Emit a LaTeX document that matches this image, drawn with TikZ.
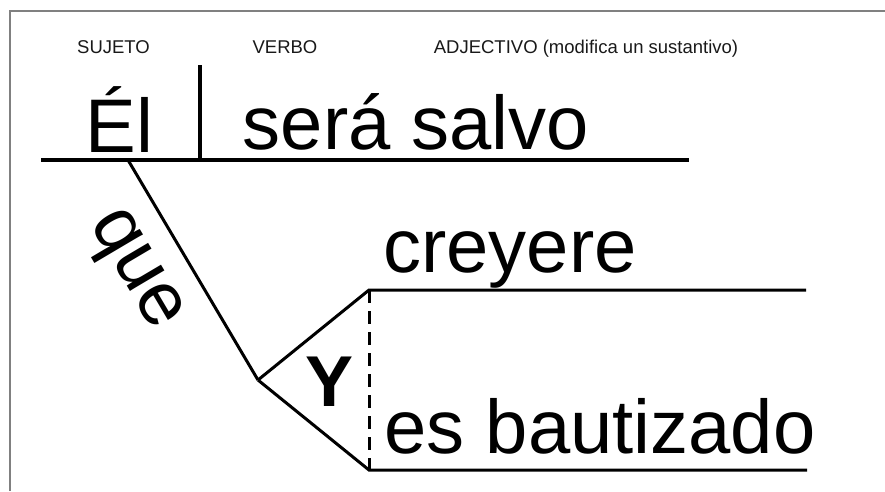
\documentclass[tikz,border=0pt]{standalone}
\usepackage{fontspec}
\setmainfont{Liberation Sans}
\begin{document}
\begin{tikzpicture}[x=1pt,y=-1pt,
  lbl/.style={font=\fontsize{18.5}{21}\selectfont, text=black!90, inner sep=0pt, anchor=base},
  big/.style={font=\fontsize{76}{80}\selectfont, inner sep=0pt, anchor=base},
  thickline/.style={line width=4pt},
  thinline/.style={line width=3pt, line join=miter},
  dashline/.style={line width=3pt, dash pattern=on 13pt off 8pt},
  frame/.style={draw=gray, line width=2pt}]
\useasboundingbox (0,0) rectangle (885,491);
% frame (top and left only)
\coordinate (f1) at (10,491);
\coordinate (f2) at (10,11);
\coordinate (f3) at (885,11);
\draw[frame] (f1) -- (f2) -- (f3);
% labels
\node[lbl] (sujeto) at (113.5,53) {SUJETO};
\node[lbl] (verbo) at (285,53) {VERBO};
\node[lbl] (adj) at (586,53) {ADJECTIVO (modifica un sustantivo)};
% words
\node[big] (el) at (119.5,152) {Él};
\node[big] (sera) at (416,149) {será salvo};
\node[big] (creyere) at (510,272) {creyere};
\node[big] (bautizado) at (600,453) {es bautizado};
\node[big, font=\fontsize{72}{76}\selectfont\bfseries] (y) at (330,406) {Y};
\node[big, rotate=-59.4] (que) at (122,278) {que};
% coordinates
\coordinate (mainL) at (41,160);
\coordinate (mainR) at (689,160);
\coordinate (divT) at (200,65);
\coordinate (divB) at (200,160);
\coordinate (slT) at (128,160);
\coordinate (fork) at (258,380);
\coordinate (upL) at (369,290);
\coordinate (upR) at (806,290);
\coordinate (loL) at (369,470);
\coordinate (loR) at (807,470);
% lines
\draw[thickline] (mainL) -- (mainR);
\draw[thickline] (divT) -- (divB);
\draw[thinline] (slT) -- (fork);
\draw[thinline] (fork) -- (upL) -- (upR);
\draw[thinline] (fork) -- (loL) -- (loR);
\draw[dashline] (upL) -- (loL);
\end{tikzpicture}
\end{document}
